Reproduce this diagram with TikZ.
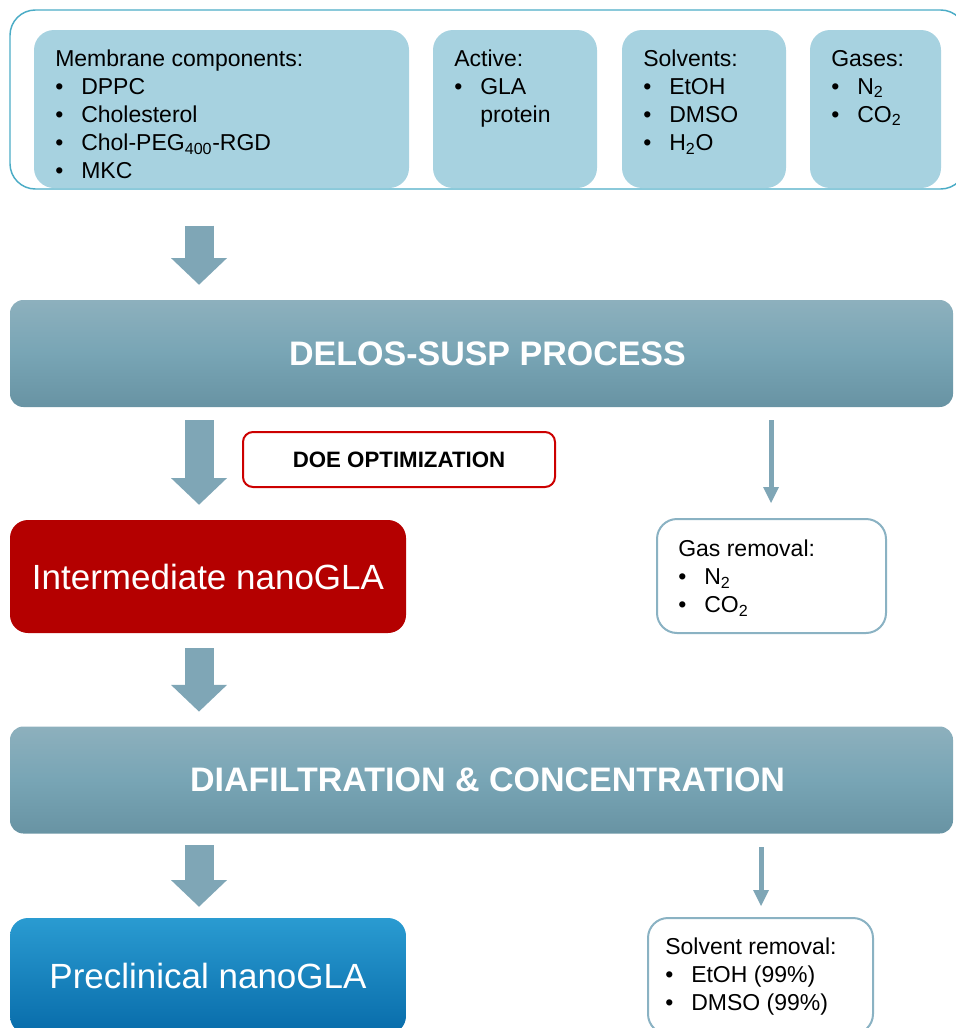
\documentclass[tikz,border=0pt]{standalone}
\usepackage{fontspec}
\setmainfont{Liberation Sans}
\usepackage{tikz}
\usepackage{xcolor}
\usetikzlibrary{arrows.meta, positioning}

\definecolor{frameblue}{RGB}{75,172,198}
\definecolor{panelblue}{RGB}{167,210,224}
\definecolor{arrowgrey}{RGB}{127,166,182}
\definecolor{bartop}{RGB}{141,176,189}
\definecolor{barmid}{RGB}{120,165,181}
\definecolor{barbot}{RGB}{104,147,163}
\definecolor{darkred}{RGB}{180,0,0}
\definecolor{doered}{RGB}{204,0,0}
\definecolor{lightedge}{RGB}{138,178,195}
\definecolor{clintop}{RGB}{42,155,209}
\definecolor{clinbot}{RGB}{8,108,170}

\newcommand{\itm}[1]{\makebox[19.5pt][l]{\textbullet}#1}

\tikzset{
  panel/.style={fill=panelblue, rounded corners=15pt, inner sep=0pt, minimum height=118.5pt},
  listtext/.style={anchor=north west, align=left, inner sep=0pt, font=\fontsize{17.25}{21}\selectfont},
  processbar/.style={rounded corners=10pt, top color=bartop, bottom color=barbot, middle color=barmid,
    inner sep=0pt, minimum width=707.25pt, minimum height=80.25pt, text=white,
    font=\fontsize{25.5}{30}\selectfont\bfseries},
  product/.style={rounded corners=13.5pt, inner sep=0pt, minimum width=297pt, text=white,
    font=\fontsize{26.25}{31}\selectfont},
  removal/.style={draw=lightedge, line width=1.5pt, fill=white, rounded corners=15pt, inner sep=0pt},
  fatarrow/.style={draw=arrowgrey, line width=21.75pt, -{Triangle[width=42pt,length=20pt,line width=0pt]}},
  thinarrow/.style={draw=arrowgrey, line width=3.75pt, -{Triangle[width=12pt,length=12pt,line width=0pt]}},
}

\begin{document}
\begin{tikzpicture}[x=0.75pt,y=0.75pt,yscale=-1,xscale=1]
\useasboundingbox (0,0) rectangle (956,1028);

%Arrow lanes
\coordinate (lane) at (199,0);
\coordinate (gaslane) at (771,0);
\coordinate (solvlane) at (761,0);

%Rounded Rect: inputs frame
\node[draw=frameblue, line width=1.1pt, rounded corners=19pt, inner sep=0pt, minimum width=717pt, minimum height=134.25pt] (inputs) at (488,99.5) {};

%Rounded Rect: input panels
\node[panel, minimum width=281.25pt] (membrane) at (221.5,109) {};
\node[panel, minimum width=123pt] (active) at (515,109) {};
\node[panel, minimum width=123pt] (solvents) at (704,109) {};
\node[panel, minimum width=98.25pt] (gases) at (875.5,109) {};

% Text Node
\node[listtext] (membranetxt) at (55,50) {Membrane components:\\\itm{DPPC}\\\itm{Cholesterol}\\\itm{Chol-PEG\textsubscript{400}-RGD}\\\itm{MKC}};
% Text Node
\node[listtext] (activetxt) at (454,50) {Active:\\\itm{GLA}\\\hspace{19.5pt}protein};
% Text Node
\node[listtext] (solventstxt) at (643,50) {Solvents:\\\itm{EtOH}\\\itm{DMSO}\\\itm{H\textsubscript{2}O}};
% Text Node
\node[listtext] (gasestxt) at (831,50) {Gases:\\\itm{N\textsubscript{2}}\\\itm{CO\textsubscript{2}}};

%Process bars
\node[processbar] (delos) at (481.5,353.5) {\hspace*{9pt}DELOS-SUSP PROCESS};
\node[processbar] (diafil) at (481.5,780) {\hspace*{9pt}DIAFILTRATION \& CONCENTRATION};

%Rounded Rect: optimization
\node[draw=doered, line width=1.5pt, rounded corners=7.5pt, inner sep=0pt, minimum width=234pt, minimum height=41.25pt,
  font=\fontsize{16.7}{20}\selectfont\bfseries] (doe) at (399,459.5) {DOE OPTIMIZATION};

%Products
\node[product, fill=darkred, minimum height=84.75pt] (intermediate) at (208,576.5) {Intermediate nanoGLA};
\node[product, top color=clintop, bottom color=clinbot, minimum height=87pt] (preclinical) at (208,976) {Preclinical nanoGLA};

%Removal boxes
\node[removal, minimum width=171.75pt, minimum height=85.5pt] (gasout) at (771.5,576) {};
\node[listtext] (gasouttxt) at (678,540) {Gas removal:\\\itm{N\textsubscript{2}}\\\itm{CO\textsubscript{2}}};
\node[removal, minimum width=168.75pt, minimum height=87pt] (solvout) at (760.5,976) {};
\node[listtext] (solvouttxt) at (665,938) {Solvent removal:\\\itm{EtOH (99\%)}\\\itm{DMSO (99\%)}};

%Block arrows
\draw[fatarrow, shorten <=27pt, shorten >=11.25pt] (inputs.south -| lane) -- (delos.north -| lane);
\draw[fatarrow, shorten <=9.75pt, shorten >=11.25pt] (delos.south -| lane) -- (intermediate.north -| lane);
\draw[fatarrow, shorten <=11.25pt, shorten >=11pt] (intermediate.south -| lane) -- (diafil.north -| lane);
\draw[fatarrow, shorten <=8.6pt, shorten >=8.25pt] (diafil.south -| lane) -- (preclinical.north -| lane);

%Thin arrows
\draw[thinarrow, shorten <=9.75pt, shorten >=11.25pt] (delos.south -| gaslane) -- (gasout.north -| gaslane);
\draw[thinarrow, shorten <=10pt, shorten >=8.25pt] (diafil.south -| solvlane) -- (solvout.north -| solvlane);

\end{tikzpicture}
\end{document}
